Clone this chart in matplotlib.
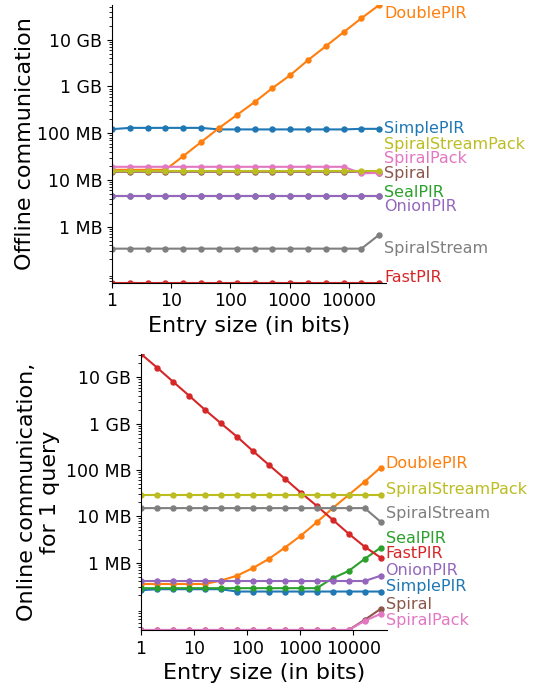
import matplotlib
matplotlib.use('Agg')
import matplotlib.pyplot as plt
from matplotlib.ticker import FixedLocator, FixedFormatter, NullLocator, NullFormatter

# entry sizes in bits: 1, 2, 4, ..., 32768
entry_bits = [2 ** i for i in range(16)]

series_names = ['SimplePIR', 'DoublePIR', 'SealPIR', 'FastPIR', 'OnionPIR',
                'Spiral', 'SpiralPack', 'SpiralStream', 'SpiralStreamPack']

# offline communication (MB)
offline_simplepir = [122, 130, 130, 130, 130, 130, 120.5, 120.5, 120.5, 120.5, 120.5, 120.5, 120.5, 120.5, 124, 124]
offline_doublepir = [16.5, 16.5, 16.5, 16.5, 32.4, 64.5, 128.5, 244, 462, 920, 1740, 3650, 7260, 14500, 28800, 55400]
offline_sealpir = [4.6] * 16
offline_fastpir = [0.0636] * 16
offline_onionpir = [4.6] * 16
offline_spiral = [15.0] * 15 + [13.8]
offline_spiralpack = [19.1] * 14 + [13.8, 14.2]
offline_spiralstream = [0.339] * 15 + [0.674]
offline_spiralstreampack = [15.5] * 16

# online communication for 1 query (MB)
online_simplepir = [0.253] + [0.266] * 5 + [0.237] * 10
online_doublepir = [0.345] * 5 + [0.41, 0.52, 0.76, 1.2, 2.1, 3.8, 7.4, 15, 29, 56, 113]
online_sealpir = [0.28] * 12 + [0.46, 0.66, 1.2, 2.1]
online_fastpir = [32000, 16300, 8100, 4050, 2000, 1020, 526, 258, 129, 65, 32.5, 16.8, 8.4, 4.2, 2.2, 1.28]
online_onionpir = [0.40] * 15 + [0.52]
online_spiral = [0.035] * 14 + [0.058, 0.1]
online_spiralpack = [0.035] * 14 + [0.055, 0.078]
online_spiralstream = [15] * 15 + [7.6]
online_spiralstreampack = [29] * 16

y_tick_values = [1, 10, 100, 1000, 10000]
y_tick_labels = ['1 MB', '10 MB', '100 MB', '1 GB', '10 GB']
x_tick_values = [1, 10, 100, 1000, 10000]
x_tick_labels = ['1', '10', '100', '1000', '10000']

colors = ['tab:blue', 'tab:orange', 'tab:green', 'tab:red', 'tab:purple',
          'tab:brown', 'tab:pink', 'tab:gray', 'tab:olive']

# vertical label nudges in points, so the end labels don't overlap
offline_nudge = {'SimplePIR': 0.5, 'DoublePIR': -6.5, 'SealPIR': 2.5, 'FastPIR': 3.8,
                 'OnionPIR': -7.6, 'Spiral': -0.4, 'SpiralPack': 10.5,
                 'SpiralStream': -10.2, 'SpiralStreamPack': 19.0}
online_nudge = {'SimplePIR': 3.9, 'DoublePIR': 3.2, 'SealPIR': 6.8, 'FastPIR': 3.2,
                'OnionPIR': 3.7, 'Spiral': 3.2, 'SpiralPack': -4.7,
                'SpiralStream': 6.3, 'SpiralStreamPack': 3.7}


def draw_panel(ax, data, nudges, ylabel, labelpad=4):
    for name, vals, color in zip(series_names, data, colors):
        ax.plot(entry_bits, vals, color=color, marker='o', markersize=3.6,
                linewidth=1.5)
        ax.annotate(name, (entry_bits[-1], vals[-1]), xytext=(3.5, nudges[name]),
                    textcoords='offset points', va='center', ha='left',
                    color=color, fontsize=11.5, annotation_clip=False)
    ax.set_xscale('log')
    ax.set_yscale('log')
    ax.set_xlim(1, entry_bits[-1] * 1.3)
    ax.set_ylim(min(min(v) for v in data), max(max(v) for v in data))
    ax.xaxis.set_major_locator(FixedLocator(x_tick_values))
    ax.xaxis.set_major_formatter(FixedFormatter(x_tick_labels))
    ax.xaxis.set_minor_locator(NullLocator())
    ax.yaxis.set_major_locator(FixedLocator(y_tick_values))
    ax.yaxis.set_major_formatter(FixedFormatter(y_tick_labels))
    ax.yaxis.set_minor_formatter(NullFormatter())
    ax.tick_params(labelsize=12.5)
    ax.spines['top'].set_visible(False)
    ax.spines['right'].set_visible(False)
    ax.set_xlabel('Entry size (in bits)', fontsize=16)
    ax.set_ylabel(ylabel, fontsize=16, labelpad=labelpad)


fig = plt.figure(figsize=(5.37, 6.88), dpi=100)
ax_off = fig.add_axes([0.2086, 0.5892, 0.5102, 0.4036])
ax_on = fig.add_axes([0.2626, 0.0843, 0.4575, 0.4012])

offline = [offline_simplepir, offline_doublepir, offline_sealpir, offline_fastpir,
           offline_onionpir, offline_spiral, offline_spiralpack, offline_spiralstream,
           offline_spiralstreampack]
online = [online_simplepir, online_doublepir, online_sealpir, online_fastpir,
          online_onionpir, online_spiral, online_spiralpack, online_spiralstream,
          online_spiralstreampack]

draw_panel(ax_off, offline, offline_nudge, 'Offline communication', labelpad=1)
draw_panel(ax_on, online, online_nudge, 'Online communication,\nfor 1 query')

fig.savefig('out.png', dpi=100)
